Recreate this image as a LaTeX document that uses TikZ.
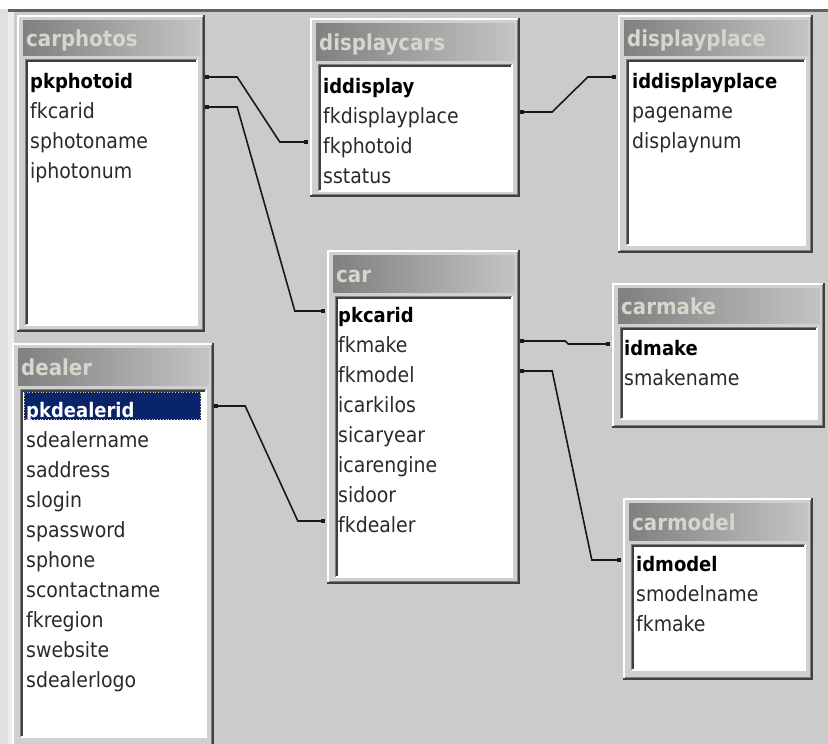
\documentclass[tikz,border=0pt]{standalone}
\usepackage{fontspec}
\IfFontExistsTF{DejaVu Sans Condensed}
  {\setmainfont{DejaVu Sans Condensed}}
  {\setmainfont{DejaVu Sans}[FakeStretch=0.9]}
\usetikzlibrary{fit,calc,arrows.meta}

\definecolor{bgc}{HTML}{CBCBCB}
\definecolor{face}{HTML}{D0D0D0}
\definecolor{capL}{HTML}{808080}
\definecolor{capR}{HTML}{C4C4C4}
\definecolor{captxt}{HTML}{D8D6CC}
\definecolor{edgedark}{HTML}{404040}
\definecolor{edgemid}{HTML}{808080}
\definecolor{fieldtxt}{HTML}{2A2A2A}
\definecolor{selbg}{HTML}{0A246A}
\definecolor{focusdot}{HTML}{E8D870}

\tikzset{
  field/.style={anchor=west, inner sep=0pt, text height=22pt, text depth=0pt,
    font=\fontsize{21}{25}\selectfont, text=fieldtxt},
  keyfield/.style={field, text=black, font=\fontsize{20}{24}\selectfont\bfseries},
  captext/.style={anchor=west, inner sep=0pt, text height=18pt, text depth=0pt,
    font=\fontsize{22}{26}\selectfont\bfseries, text=captxt},
  rel/.style={draw=black!90, line width=1.6pt,
    {Square[length=3.5pt,width=4.5pt]}-{Square[length=3.5pt,width=4.5pt]}},
}

% One table window: #1 name, #2 left, #3 top, #4 right, #5 bottom,
% #6 caption bottom, #7 field list bottom, #8 caption text
\newcommand{\dbframe}[8]{%
  \fill[face] (#2,#3) rectangle (#4,#5);
  \draw[white, line width=2pt] (#2+1,#5-1) -- (#2+1,#3+1) -- (#4-1,#3+1);
  \draw[edgemid, line width=1pt] (#2+2,#5-3) -- (#4-3,#5-3) -- (#4-3,#3+2);
  \draw[edgedark, line width=2pt] (#2,#5-1) -- (#4-1,#5-1) -- (#4-1,#3);
  \shade[left color=capL, right color=capR] (#2+6,#3+5) rectangle (#4-5,#6);
  \fill[white] (#2+8,#6+4) rectangle (#4-8,#7);
  \draw[white, line width=1.5pt] (#2+8,#7) -- (#4-8,#7) -- (#4-8,#6+4);
  \draw[edgemid, line width=1pt] (#2+8.5,#7) -- (#2+8.5,#6+4.5) -- (#4-8,#6+4.5);
  \draw[edgedark, line width=1.8pt] (#2+10,#7-1) -- (#2+10,#6+6) -- (#4-9,#6+6);
  \node[fit={(#2,#3) (#4,#5)}, inner sep=0pt] (#1) {};
  \node[captext] (#1-cap) at (#2+9,{(#3+5+#6)/2}) {#8};
}

\begin{document}
\begin{tikzpicture}[x=1pt,y=-1pt]
\useasboundingbox (0,0) rectangle (828,744);
\clip (0,0) rectangle (828,744);

% window background and its edges
\fill[bgc] (0,0) rectangle (828,744);
\fill[white] (0,0) rectangle (828,9);
\fill[black!62] (8,9) rectangle (828,12);
\fill[black!12] (0,9) rectangle (8,744);
\fill[black!7] (8,12) rectangle (14,744);

% tables
\dbframe{carphotos}{17}{15}{205}{332}{55}{325}{carphotos}
\dbframe{displaycars}{310}{18}{520}{197}{60}{191}{displaycars}
\dbframe{displayplace}{618}{15}{813}{253}{55}{245}{displayplace}
\dbframe{car}{327}{250}{520}{584}{292}{577}{car}
\dbframe{carmake}{612}{283}{825}{428}{323}{419}{carmake}
\dbframe{carmodel}{623}{498}{813}{680}{540}{670}{carmodel}
\dbframe{dealer}{12}{343}{214}{760}{385}{737}{dealer}

% carphotos fields
\node[keyfield] (cp1) at (30,77)  {pkphotoid};
\node[field]    (cp2) at (30,107) {fkcarid};
\node[field]    (cp3) at (30,137) {sphotoname};
\node[field]    (cp4) at (30,167) {iphotonum};

% displaycars fields
\node[keyfield] (dc1) at (323,82)  {iddisplay};
\node[field]    (dc2) at (323,112) {fkdisplayplace};
\node[field]    (dc3) at (323,142) {fkphotoid};
\node[field]    (dc4) at (323,172) {sstatus};

% displayplace fields
\node[keyfield] (dp1) at (632,77)  {iddisplayplace};
\node[field]    (dp2) at (632,107) {pagename};
\node[field]    (dp3) at (632,137) {displaynum};

% car fields
\node[keyfield] (c1) at (338,311) {pkcarid};
\node[field]    (c2) at (338,341) {fkmake};
\node[field]    (c3) at (338,371) {fkmodel};
\node[field]    (c4) at (338,401) {icarkilos};
\node[field]    (c5) at (338,431) {sicaryear};
\node[field]    (c6) at (338,461) {icarengine};
\node[field]    (c7) at (338,491) {sidoor};
\node[field]    (c8) at (338,521) {fkdealer};

% carmake fields
\node[keyfield] (mk1) at (624,344) {idmake};
\node[field]    (mk2) at (624,374) {smakename};

% carmodel fields
\node[keyfield] (md1) at (636,560) {idmodel};
\node[field]    (md2) at (636,590) {smodelname};
\node[field]    (md3) at (636,620) {fkmake};

% dealer fields, first row selected
\fill[selbg] (24,392) rectangle (201,420);
\draw[focusdot, line width=0.8pt, dotted] (24.5,392.5) rectangle (200.5,419.5);
\node[keyfield, text=white] (d1) at (26,406) {pkdealerid};
\node[field] (d2)  at (26,436) {sdealername};
\node[field] (d3)  at (26,466) {saddress};
\node[field] (d4)  at (26,496) {slogin};
\node[field] (d5)  at (26,526) {spassword};
\node[field] (d6)  at (26,556) {sphone};
\node[field] (d7)  at (26,586) {scontactname};
\node[field] (d8)  at (26,616) {fkregion};
\node[field] (d9)  at (26,646) {swebsite};
\node[field] (d10) at (26,676) {sdealerlogo};

% relationships
\draw[rel] (carphotos.east |- cp1) -- ++(32,0)
  -- ($(displaycars.west |- dc3)+(-30,0)$) -- ($(displaycars.west |- dc3)+(-2,0)$);
\draw[rel] (carphotos.east |- cp2) -- ++(32,0)
  -- ($(car.west |- c1)+(-32,0)$) -- ($(car.west |- c1)+(-2,0)$);
\draw[rel] (displaycars.east |- dc2) -- ++(32,0)
  -- ($(displayplace.west |- dp1)+(-30,0)$) -- ($(displayplace.west |- dp1)+(-2,0)$);
\draw[rel] (car.east |- c2) -- ++(45,0) -- ++(3,3) -- ($(carmake.west |- mk1)+(-2,0)$);
\draw[rel] (car.east |- c3) -- ++(32,0)
  -- ($(carmodel.west |- md1)+(-31,0)$) -- ($(carmodel.west |- md1)+(-2,0)$);
\draw[rel] (dealer.east |- d1) -- ++(31,0)
  -- ($(car.west |- c8)+(-29,0)$) -- ($(car.west |- c8)+(-2,0)$);
\end{tikzpicture}
\end{document}
